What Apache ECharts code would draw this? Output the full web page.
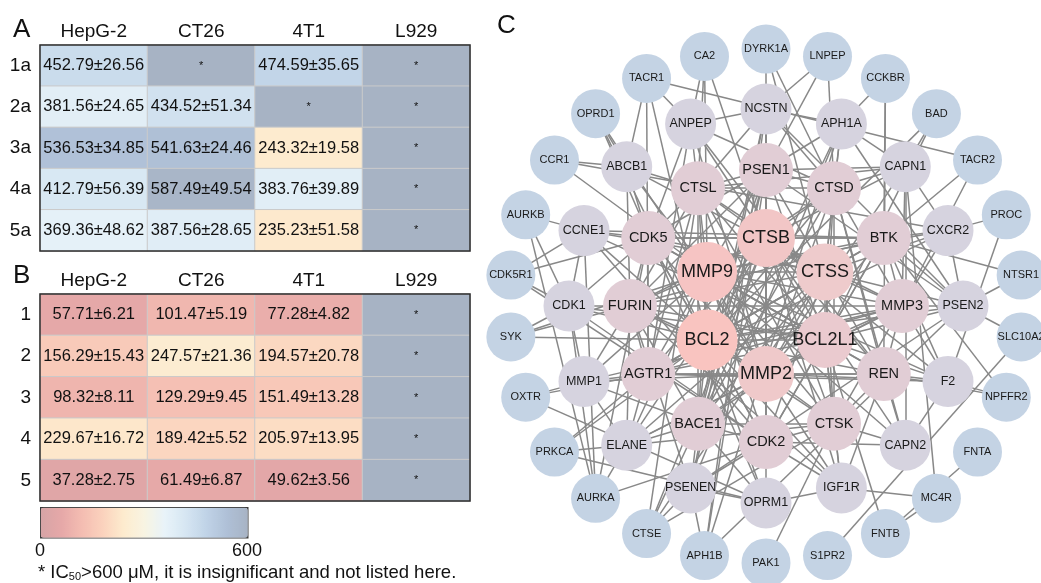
<!DOCTYPE html>
<html>
<head>
<meta charset="utf-8">
<script src="https://cdn.jsdelivr.net/npm/echarts@6/dist/echarts.min.js"></script>
<style>
  html, body { margin: 0; padding: 0; background: #fff; }
  #main { width: 1041px; height: 583px; }
</style>
</head>
<body>
<div id="main"></div>
<script>
// ---- IC50 tables (mean ± sd, null = >600 µM) ----
const cellLines = ['HepG-2', 'CT26', '4T1', 'L929'];

const rowsA = ['1a', '2a', '3a', '4a', '5a'];
const meanA = [
  [452.79, null, 474.59, null],
  [381.56, 434.52, null, null],
  [536.53, 541.63, 243.32, null],
  [412.79, 587.49, 383.76, null],
  [369.36, 387.56, 235.23, null]
];
const sdA = [
  [26.56, null, 35.65, null],
  [24.65, 51.34, null, null],
  [34.85, 24.46, 19.58, null],
  [56.39, 49.54, 39.89, null],
  [48.62, 28.65, 51.58, null]
];

const rowsB = ['1', '2', '3', '4', '5'];
const meanB = [
  [57.71, 101.47, 77.28, null],
  [156.29, 247.57, 194.57, null],
  [98.32, 129.29, 151.49, null],
  [229.67, 189.42, 205.97, null],
  [37.28, 61.49, 49.62, null]
];
const sdB = [
  [6.21, 5.19, 4.82, null],
  [15.43, 21.36, 20.78, null],
  [8.11, 9.45, 13.28, null],
  [16.72, 5.52, 13.95, null],
  [2.75, 6.87, 3.56, null]
];

// colour scale
const scaleTicks = [0, 600];
const scaleColors = ['#d6a4a6', '#e6a8a8', '#f4bdb2', '#fbd2bd', '#fdebce', '#f8f4e2',
  '#e8f3f9', '#d6e6f2', '#c0d3e7', '#afc0d7', '#a7b3c4'];

// ---- network (rings from centre outward, clockwise from top) ----
const ring1 = ['CTSB', 'CTSS', 'BCL2L1', 'MMP2', 'BCL2', 'MMP9'];
const ring2 = ['PSEN1', 'CTSD', 'BTK', 'MMP3', 'REN', 'CTSK', 'CDK2', 'BACE1', 'AGTR1', 'FURIN', 'CDK5', 'CTSL'];
const ring3 = ['NCSTN', 'APH1A', 'CAPN1', 'CXCR2', 'PSEN2', 'F2', 'CAPN2', 'IGF1R', 'OPRM1', 'PSENEN',
  'ELANE', 'MMP1', 'CDK1', 'CCNE1', 'ABCB1', 'ANPEP'];
const ring4 = ['DYRK1A', 'LNPEP', 'CCKBR', 'BAD', 'TACR2', 'PROC', 'NTSR1', 'SLC10A2', 'NPFFR2', 'FNTA',
  'MC4R', 'FNTB', 'S1PR2', 'PAK1', 'APH1B', 'CTSE', 'AURKA', 'PRKCA', 'OXTR', 'SYK', 'CDK5R1',
  'AURKB', 'CCR1', 'OPRD1', 'TACR1', 'CA2'];
const ring1Size = [58, 57, 56, 56, 61, 60];
const ring1Color = ['#f2c6c6', '#eecbcc', '#eacacf', '#efc9ca', '#f9c4c0', '#f6c4c3'];

const links = {
  CTSB: ['CTSS', 'BCL2L1', 'MMP2', 'BCL2', 'MMP9', 'PSEN1', 'CTSD', 'BTK', 'MMP3', 'REN', 'CTSK', 'CDK2', 'BACE1',
    'AGTR1', 'FURIN', 'CDK5', 'CTSL', 'NCSTN', 'CAPN1', 'ANPEP', 'ELANE', 'IGF1R', 'CAPN2', 'F2'],
  CTSS: ['BCL2L1', 'MMP2', 'BCL2', 'MMP9', 'PSEN1', 'CTSD', 'BTK', 'MMP3', 'REN', 'CTSK', 'CDK2', 'BACE1', 'AGTR1',
    'FURIN', 'CDK5', 'CTSL', 'CXCR2', 'ABCB1', 'ELANE', 'CCNE1', 'APH1A', 'PSEN2'],
  BCL2L1: ['MMP2', 'BCL2', 'MMP9', 'CTSD', 'BTK', 'MMP3', 'REN', 'CTSK', 'CDK2', 'BACE1', 'AGTR1', 'FURIN', 'CDK5',
    'CTSL', 'PSEN1', 'CDK1', 'CCNE1', 'IGF1R', 'PSEN2', 'F2', 'BAD'],
  MMP2: ['BCL2', 'MMP9', 'PSEN1', 'CTSD', 'BTK', 'MMP3', 'REN', 'CTSK', 'CDK2', 'BACE1', 'AGTR1', 'FURIN', 'CDK5',
    'CTSL', 'MMP1', 'ELANE', 'F2', 'IGF1R', 'CAPN1', 'ANPEP', 'OPRD1'],
  BCL2: ['MMP9', 'PSEN1', 'CTSD', 'BTK', 'MMP3', 'REN', 'CTSK', 'CDK2', 'BACE1', 'AGTR1', 'FURIN', 'CDK5', 'CTSL',
    'CDK1', 'CCNE1', 'IGF1R', 'PSEN2', 'SYK', 'BAD', 'PRKCA', 'OPRM1'],
  MMP9: ['PSEN1', 'CTSD', 'BTK', 'MMP3', 'REN', 'CTSK', 'CDK2', 'BACE1', 'AGTR1', 'FURIN', 'CDK5', 'CTSL', 'MMP1',
    'ELANE', 'F2', 'CXCR2', 'ABCB1', 'CAPN2', 'SYK', 'CCR1', 'CA2'],
  PSEN1: ['CTSD', 'BACE1', 'CDK5', 'FURIN', 'NCSTN', 'APH1A', 'PSENEN', 'PSEN2', 'APH1B', 'CAPN1', 'CDK2', 'CTSL',
    'LNPEP', 'DYRK1A'],
  CTSD: ['CTSL', 'CTSK', 'BACE1', 'REN', 'CAPN1', 'APH1A', 'MMP3', 'ANPEP', 'NCSTN', 'DYRK1A', 'CAPN2', 'LNPEP'],
  BTK: ['MMP3', 'CDK5', 'CDK2', 'CXCR2', 'CCNE1', 'SYK', 'PSEN2', 'F2', 'NTSR1', 'NPFFR2', 'TACR2', 'CCKBR'],
  MMP3: ['REN', 'CTSK', 'FURIN', 'MMP1', 'ELANE', 'CAPN1', 'F2', 'CXCR2', 'PSEN2', 'TACR2', 'AGTR1'],
  REN: ['AGTR1', 'CTSK', 'F2', 'CAPN2', 'ANPEP', 'IGF1R', 'CCKBR', 'NPFFR2'],
  CTSK: ['CTSL', 'CDK2', 'BACE1', 'CAPN2', 'IGF1R', 'ELANE', 'PAK1', 'CTSE'],
  CDK2: ['CDK5', 'CDK1', 'CCNE1', 'BACE1', 'IGF1R', 'OPRM1', 'PSENEN', 'AURKA', 'CDK5R1', 'CAPN2'],
  BACE1: ['FURIN', 'CTSL', 'PSENEN', 'APH1A', 'NCSTN', 'ELANE', 'CTSE', 'OPRM1', 'MMP1'],
  AGTR1: ['FURIN', 'CDK5', 'MMP1', 'ANPEP', 'OXTR', 'PRKCA', 'TACR1', 'F2', 'CXCR2'],
  FURIN: ['CDK5', 'CTSL', 'MMP1', 'CDK1', 'ELANE', 'IGF1R', 'PSENEN', 'ABCB1'],
  CDK5: ['CTSL', 'CDK1', 'CCNE1', 'ABCB1', 'CDK5R1', 'AURKA', 'ANPEP'],
  CTSL: ['ANPEP', 'ABCB1', 'CAPN1', 'ELANE', 'CTSE', 'NCSTN', 'CA2'],
  NCSTN: ['APH1A', 'PSENEN', 'PSEN2', 'ANPEP', 'LNPEP', 'APH1B'],
  APH1A: ['PSENEN', 'PSEN2', 'CAPN1', 'CCKBR', 'APH1B'],
  CAPN1: ['CAPN2', 'BAD', 'CXCR2', 'MC4R'],
  CXCR2: ['PROC', 'CCR1', 'PSEN2'],
  PSEN2: ['PSENEN', 'NTSR1', 'SLC10A2', 'APH1B'],
  F2: ['PROC', 'NPFFR2', 'CAPN2'],
  IGF1R: ['MC4R', 'OPRM1'],
  OPRM1: ['OPRD1', 'PSENEN', 'OXTR', 'PRKCA'],
  PSENEN: ['CTSE', 'APH1B'],
  ELANE: ['AURKA', 'PRKCA', 'MMP1'],
  MMP1: ['OXTR', 'CDK1'],
  CDK1: ['CCNE1', 'AURKB', 'CDK5R1', 'AURKA', 'SYK'],
  CCNE1: ['AURKB', 'CDK5R1', 'AURKA'],
  ABCB1: ['CCR1', 'OPRD1', 'TACR1'],
  ANPEP: ['TACR1', 'CA2'],
  TACR1: ['TACR2', 'BCL2'],
  CA2: ['CTSB'],
  DYRK1A: ['CTSS'],
  SLC10A2: ['S1PR2'],
  FNTA: ['FNTB'],
  FNTB: ['BCL2L1', 'MC4R'],
  CTSE: ['CTSB', 'CTSS'],
  AURKA: ['AURKB'],
  SYK: ['BTK'],
  OPRD1: ['BCL2'],
  CCR1: ['CXCR2']
};

const FONT = 'Liberation Sans, Arial, sans-serif';

function cells(mean, sd) {
  const out = [];
  mean.forEach((row, r) => row.forEach((m, c) => {
    out.push({
      value: [c, r, m == null ? scaleTicks[1] : m],
      mean: m,
      sd: sd[r][c],
      label: m == null ? { fontSize: 11 } : undefined
    });
  }));
  return out;
}

// nodes placed on concentric rings
const rings = [ring1, ring2, ring3, ring4];
const ringRadius = [68, 136, 197, 257];
const ringSize = [null, 54, 51, 49];
const ringColor = [null, '#e1cdd5', '#d6d3df', '#c4d3e4'];
const ringFont = [18, 14.5, 12.5, 11];
const nodes = [];
rings.forEach((ring, k) => {
  ring.forEach((name, i) => {
    const a = i * 2 * Math.PI / ring.length;
    const r = ringRadius[k];
    nodes.push({
      name: name,
      value: [r * Math.sin(a), r * Math.cos(a)],
      symbolSize: k === 0 ? ring1Size[i] : ringSize[k],
      itemStyle: { color: k === 0 ? ring1Color[i] : ringColor[k] },
      label: { fontSize: ringFont[k] }
    });
  });
});
const seen = new Set();
const edges = [];
Object.keys(links).forEach(s => {
  links[s].forEach(t => {
    const key = [s, t].sort().join('|');
    if (!seen.has(key)) { seen.add(key); edges.push({ source: s, target: t }); }
  });
});

const heatAxisX = (gi) => ({
  type: 'category', gridIndex: gi, data: cellLines, position: 'top',
  axisLine: { show: false }, axisTick: { show: false }, splitLine: { show: false },
  axisLabel: { fontSize: 19, color: '#111', fontFamily: FONT, margin: 4 }
});
const heatAxisY = (gi, rows) => ({
  type: 'category', gridIndex: gi, data: rows, inverse: true,
  axisLine: { show: false }, axisTick: { show: false }, splitLine: { show: false },
  axisLabel: { fontSize: 19, color: '#111', fontFamily: FONT, margin: 9 }
});
const heatSeries = (gi, mean, sd) => ({
  type: 'heatmap', xAxisIndex: gi, yAxisIndex: gi,
  data: cells(mean, sd),
  itemStyle: { borderColor: '#cacaca', borderWidth: 1 },
  label: {
    show: true, color: '#111', fontSize: 16.5, fontFamily: FONT,
    formatter: p => p.data.mean == null ? '*' : p.data.mean.toFixed(2) + '±' + p.data.sd.toFixed(2)
  },
  emphasis: { disabled: true }
});

const chart = echarts.init(document.getElementById('main'), null, { renderer: 'canvas' });
chart.setOption({
  animation: false,
  backgroundColor: '#fff',
  textStyle: { fontFamily: FONT },
  grid: [
    { left: 40, top: 45, width: 430, height: 206, show: true, borderColor: '#2e2e2e', borderWidth: 1.5, backgroundColor: 'transparent', z: 5 },
    { left: 40, top: 294, width: 430, height: 207, show: true, borderColor: '#2e2e2e', borderWidth: 1.5, backgroundColor: 'transparent', z: 5 },
    { left: 40, top: 507, width: 207, height: 30 },
    { left: 496, top: 36, width: 540, height: 540 }
  ],
  xAxis: [
    heatAxisX(0), heatAxisX(1),
    { type: 'value', gridIndex: 2, min: scaleTicks[0], max: scaleTicks[1], interval: scaleTicks[1],
      axisLine: { show: false }, axisTick: { show: false }, splitLine: { show: false },
      axisLabel: { fontSize: 18, color: '#111', margin: 5, fontFamily: FONT } },
    { type: 'value', gridIndex: 3, min: -270, max: 270, show: false }
  ],
  yAxis: [
    heatAxisY(0, rowsA), heatAxisY(1, rowsB),
    { type: 'value', gridIndex: 2, show: false },
    { type: 'value', gridIndex: 3, min: -270, max: 270, show: false }
  ],
  visualMap: {
    type: 'continuous', seriesIndex: [0, 1], min: scaleTicks[0], max: scaleTicks[1],
    orient: 'horizontal', left: 40, top: 507, itemWidth: 30, itemHeight: 207,
    calculable: false, padding: 0, borderColor: '#3a3a3a', borderWidth: 1.5,
    inRange: { color: scaleColors }, text: null, hoverLink: false
  },
  graphic: [
    { type: 'text', left: 13, top: 17, style: { text: 'A', fontSize: 26, fill: '#111', fontFamily: FONT } },
    { type: 'text', left: 13, top: 263, style: { text: 'B', fontSize: 26, fill: '#111', fontFamily: FONT } },
    { type: 'text', left: 497, top: 13, style: { text: 'C', fontSize: 26, fill: '#111', fontFamily: FONT } },
    { type: 'text', left: 38, top: 563, style: {
        text: '{n|* IC}{s|50}{n|>600 μM, it is insignificant and not listed here.}',
        rich: {
          n: { fontSize: 18.5, fill: '#111', fontFamily: FONT },
          s: { fontSize: 11, fill: '#111', fontFamily: FONT, padding: [9, 0, 0, 0] }
        }
      } }
  ],
  series: [
    heatSeries(0, meanA, sdA),
    heatSeries(1, meanB, sdB),
    {
      type: 'graph', coordinateSystem: 'cartesian2d', xAxisIndex: 3, yAxisIndex: 3,
      symbol: 'circle', data: nodes, links: edges,
      lineStyle: { color: '#888', width: 1.5, opacity: 1, curveness: 0 },
      label: { show: true, position: 'inside', color: '#1a1a1a', fontFamily: FONT },
      emphasis: { disabled: true }
    }
  ]
});
</script>
</body>
</html>
